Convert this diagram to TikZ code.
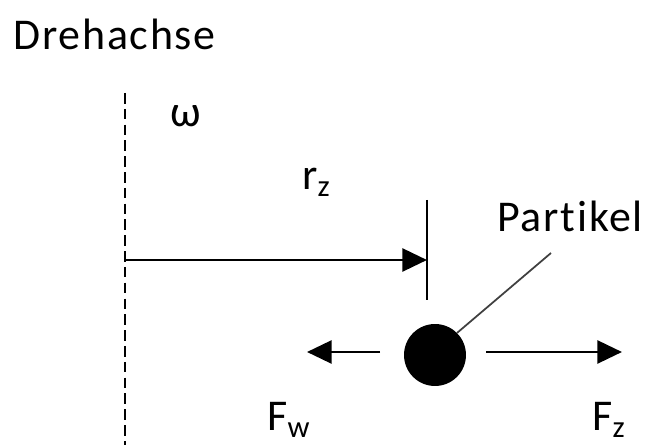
\documentclass[tikz,border=0pt]{standalone}
\usepackage{fontspec}
\setmainfont{Carlito}[LetterSpace=4,Ligatures={NoCommon,NoRare}]
\usetikzlibrary{arrows.meta}
\begin{document}
\begin{tikzpicture}[x=0.02cm,y=-0.02cm,
  lbl/.style={inner sep=0pt,font=\fontsize{25}{29}\selectfont},
  force/.style={line width=1.7pt,-{Triangle[length=14pt,width=13pt]}},
  axis/.style={line width=1.7pt,dash pattern=on 6pt off 3pt},
  tick/.style={line width=1.7pt}]
\useasboundingbox (0,0) rectangle (650,445);
\node[lbl,anchor=base west] (dreh) at (13,50) {Drehachse};
\coordinate (axtop) at (125,93);
\coordinate (axbot) at (125,445);
\draw[axis] (axtop) -- (axbot);
\node[lbl,anchor=base west] (omega) at (170,127) {ω};
\node[lbl,anchor=base west] (rz) at (302,190) {r\textsubscript{z}};
\coordinate (rstart) at (125,260);
\coordinate (tickt) at (427,200);
\coordinate (tickb) at (427,300);
\coordinate (rend) at (427,260);
\draw[tick] (tickt) -- (tickb);
\draw[force] (rstart) -- (rend);
\node[circle,fill=black,inner sep=0pt,minimum size=1.24cm] (p) at (435,355) {};
\node[lbl,anchor=base west] (part) at (497,232) {Partikel};
\coordinate (pl) at (551,253);
\draw[line width=1pt,black!75] (p.45) -- (pl);
\coordinate (fws) at (380,352);
\coordinate (fwe) at (307,352);
\coordinate (fzs) at (486,352);
\coordinate (fze) at (622,352);
\draw[force] (fws) -- (fwe);
\draw[force] (fzs) -- (fze);
\node[lbl,anchor=base west] (fw) at (267,431) {F\textsubscript{w}};
\node[lbl,anchor=base west] (fz) at (592,431) {F\textsubscript{z}};
\end{tikzpicture}
\end{document}
